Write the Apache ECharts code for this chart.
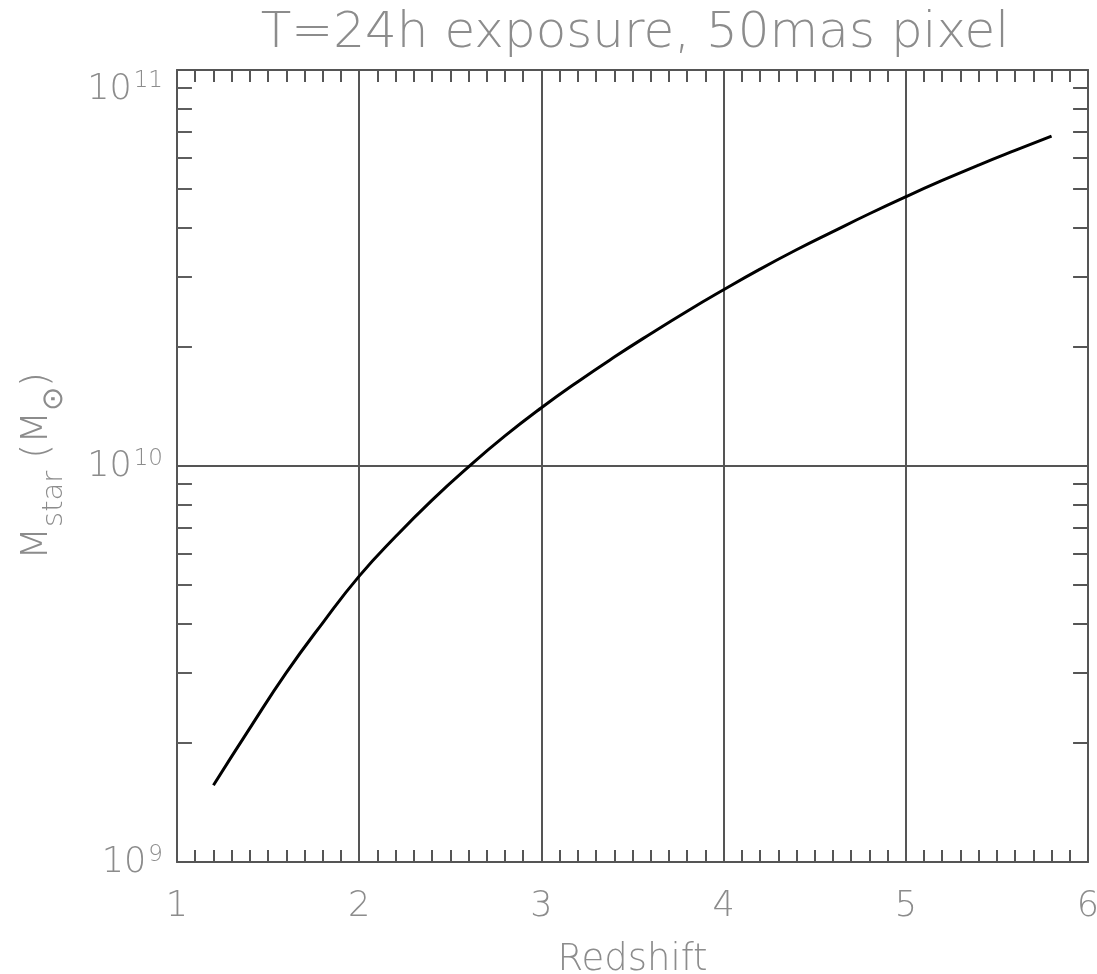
<!DOCTYPE html>
<html>
<head>
<meta charset="utf-8">
<title>Stellar mass limit vs redshift</title>
<script src="https://cdn.jsdelivr.net/npm/echarts@6/dist/echarts.min.js"></script>
<style>
  html, body { margin: 0; padding: 0; background: #ffffff; }
  #chart { width: 1097px; height: 974px; }
</style>
</head>
<body>
<div id="chart"></div>
<script>
// Redshift sampling of the detection-limit curve
const redshift = [1.2, 1.4, 1.6, 1.8, 2.0, 2.2, 2.4, 2.6, 2.8, 3.0, 3.2, 3.4,
                  3.6, 3.8, 4.0, 4.2, 4.4, 4.6, 4.8, 5.0, 5.2, 5.4, 5.6, 5.8];
// Minimum stellar mass (solar masses) at each redshift
const mstar = [1.563e9, 2.178e9, 3.006e9, 4.018e9, 5.272e9, 6.637e9, 8.204e9, 9.954e9,
               1.191e10, 1.403e10, 1.633e10, 1.884e10, 2.158e10, 2.460e10, 2.786e10, 3.141e10,
               3.516e10, 3.908e10, 4.335e10, 4.786e10, 5.260e10, 5.754e10, 6.266e10, 6.808e10];
// Axis ranges and tick values
const xRange = [1, 6];
const yRange = [1e9, 1e11];
const yMinorTicks = [2e9, 3e9, 4e9, 5e9, 6e9, 7e9, 8e9, 9e9,
                     2e10, 3e10, 4e10, 5e10, 6e10, 7e10, 8e10, 9e10];

const titleText = 'T=24h exposure, 50mas pixel';
const xName = 'Redshift';

const FONT = 'DejaVu Sans';
const TEXT = '#8c8c8c';
const FRAME = '#555555';
const TICK_LEFT = '#5e5e5e';
// length of the log-axis minor ticks, in redshift units (~15px)
const TICK_LEN = 0.082;

const chart = echarts.init(document.getElementById('chart'), null, { renderer: 'canvas' });

function powLabel(v) {
  const e = Math.round(Math.log10(v));
  return '{b|10}{s|' + e + '}';
}
const powRich = {
  b: { fontFamily: FONT, fontSize: 35, color: TEXT, verticalAlign: 'bottom', fontWeight: 'lighter' },
  s: { fontFamily: FONT, fontSize: 23, color: TEXT, verticalAlign: 'top', padding: [0, 0, 14, 2], fontWeight: 'lighter' }
};

const frameLine = { show: true, onZero: false, lineStyle: { color: FRAME, width: 2 } };

// inward minor ticks on both vertical frame edges, placed on the log scale
const edgeTicks = [];
yMinorTicks.forEach(v => {
  edgeTicks.push([{ coord: [xRange[0], v], lineStyle: { color: TICK_LEFT, width: 2 } }, { coord: [xRange[0] + TICK_LEN, v] }]);
  edgeTicks.push([{ coord: [xRange[1] - TICK_LEN, v], lineStyle: { color: FRAME, width: 2 } }, { coord: [xRange[1], v] }]);
});

chart.setOption({
  animation: false,
  backgroundColor: '#ffffff',
  title: {
    text: titleText,
    left: 630,
    textAlign: 'center',
    top: 4,
    textStyle: { fontFamily: FONT, fontSize: 50, fontWeight: 'lighter', color: TEXT }
  },
  grid: { left: 177, right: 9, top: 70, bottom: 112, outerBoundsMode: 'none', containLabel: false },
  xAxis: [
    {
      type: 'value',
      min: xRange[0], max: xRange[1], interval: 1,
      position: 'bottom',
      name: xName,
      nameLocation: 'middle',
      nameGap: 80,
      nameTextStyle: { fontFamily: FONT, fontSize: 37, fontWeight: 'lighter', color: TEXT },
      axisLine: frameLine,
      axisTick: { show: true, inside: true, length: 12, lineStyle: { color: FRAME, width: 2 } },
      minorTick: { show: true, splitNumber: 10, length: 12, lineStyle: { color: FRAME, width: 2 } },
      axisLabel: { fontFamily: FONT, fontSize: 35, fontWeight: 'lighter', color: TEXT, margin: 27 },
      splitLine: { show: true, lineStyle: { color: FRAME, width: 2 } }
    },
    {
      type: 'value',
      min: xRange[0], max: xRange[1], interval: 1,
      position: 'top',
      axisLine: frameLine,
      axisTick: { show: true, inside: true, length: 12, lineStyle: { color: FRAME, width: 2 } },
      minorTick: { show: true, splitNumber: 10, length: 12, lineStyle: { color: FRAME, width: 2 } },
      axisLabel: { show: false },
      splitLine: { show: false }
    }
  ],
  yAxis: [
    {
      type: 'log',
      logBase: 10,
      min: yRange[0], max: yRange[1],
      position: 'left',
      name: '{m|M}{sub|star}{m| (M}{sub|\u2299}{m|)}',
      nameLocation: 'middle',
      nameGap: 108,
      nameRotate: 90,
      nameTextStyle: {
        rich: {
          m: { fontFamily: FONT, fontSize: 38, fontWeight: 'lighter', color: TEXT, verticalAlign: 'bottom', padding: [0, 0, 13, 0] },
          sub: { fontFamily: FONT, fontSize: 29, fontWeight: 'lighter', color: TEXT, verticalAlign: 'bottom' }
        }
      },
      axisLine: frameLine,
      axisTick: { show: false },
      axisLabel: {
        margin: 14,
        formatter: powLabel,
        rich: powRich,
        verticalAlignMaxLabel: 'top',
        verticalAlignMinLabel: 'bottom'
      },
      splitLine: { show: true, lineStyle: { color: FRAME, width: 2 } }
    },
    {
      type: 'log',
      logBase: 10,
      min: yRange[0], max: yRange[1],
      position: 'right',
      axisLine: frameLine,
      axisTick: { show: false },
      axisLabel: { show: false },
      splitLine: { show: false }
    }
  ],
  series: [
    {
      type: 'line',
      xAxisIndex: 0,
      yAxisIndex: 0,
      data: redshift.map((z, i) => [z, mstar[i]]),
      smooth: 0.5,
      symbol: 'none',
      lineStyle: { color: '#000000', width: 3 },
      z: 5,
      markLine: {
        silent: true,
        symbol: ['none', 'none'],
        label: { show: false },
        lineStyle: { color: FRAME, width: 2, type: 'solid' },
        emphasis: { disabled: true },
        data: edgeTicks
      }
    }
  ]
});
</script>
</body>
</html>
